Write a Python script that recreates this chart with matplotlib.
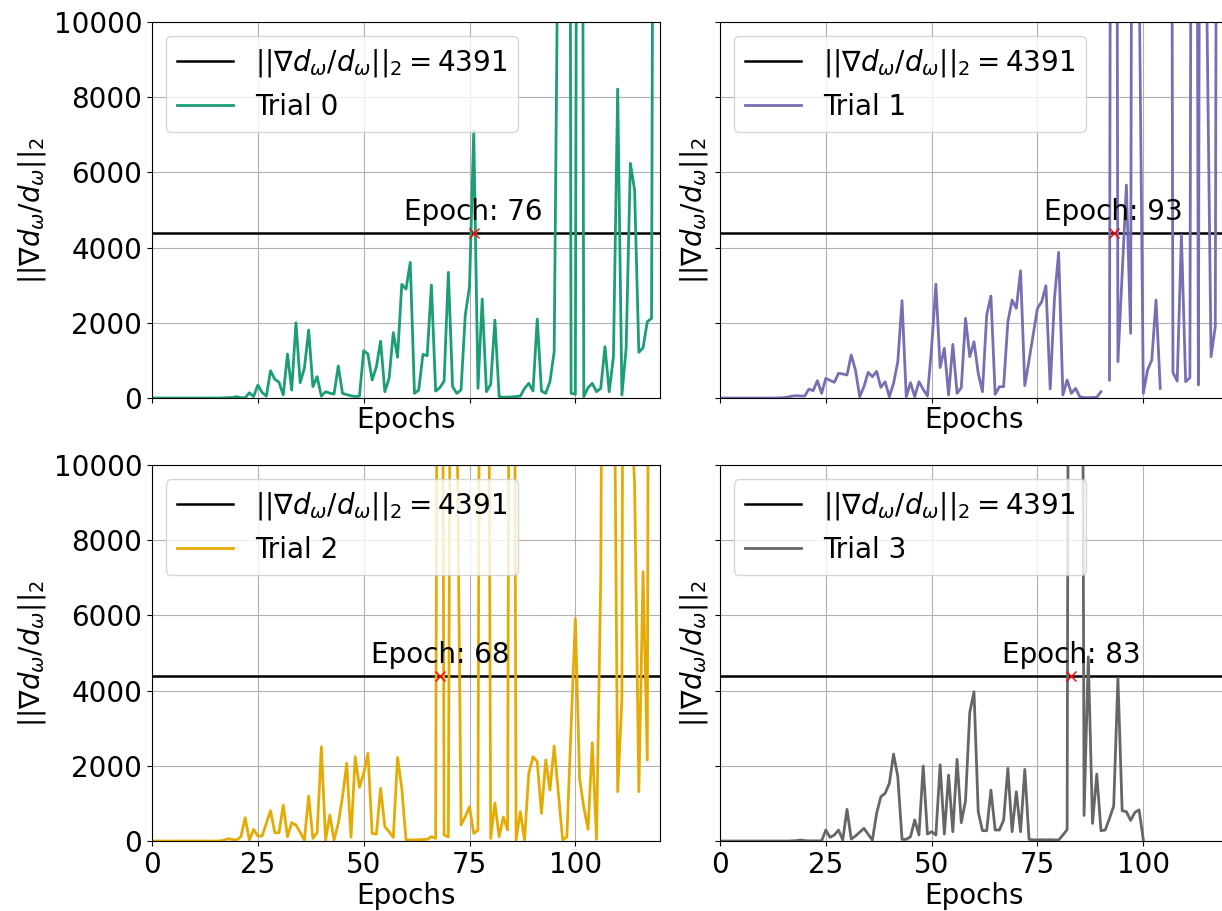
"""
Gradient norm per epoch for four training trials, with the
threshold line and the first epoch that crosses it.
"""

import matplotlib.pyplot as plt
import numpy as np

THRESHOLD = 4391
nan = np.nan

trial_0 = [
    0, 0, 0, 0, 0, 0, 0, 0, 0, 0,
    0, 0, 0, 0, 0, 0, 0, 5, 10, 15,
    35, 10, 5, 140, 40, 345, 150, 50, 726, 500,
    420, 80, 1170, 210, 2003, 408, 797, 1808, 302, 567,
    50, 168, 130, 105, 851, 124, 90, 60, 40, 50,
    1259, 1170, 479, 833, 1510, 168, 523, 1740, 1085, 3023,
    2899, 3608, 124, 213, 1161, 1126, 3005, 186, 275, 452,
    3342, 301, 124, 213, 2207, 2961, 7100, 257, 2633, 168,
    364, 2074, 35, 20, 25, 30, 40, 50, 257, 390,
    186, 2101, 186, 124, 434, 1231, 14000, 30000, 60000, 124,
    100, 50000, 35, 275, 390, 168, 257, 1365, 168, 1099,
    8218, 80, 1322, 6242, 5532, 1215, 1338, 2030, 2119, 40000,
]

trial_1 = [
    0, 0, 0, 0, 0, 0, 0, 0, 0, 0,
    0, 0, 0, 0, 5, 10, 25, 50, 60, 55,
    53, 239, 195, 461, 124, 523, 470, 417, 656, 640,
    612, 1143, 745, 35, 302, 683, 567, 709, 284, 434,
    35, 390, 966, 2589, 35, 408, 35, 434, 231, 53,
    1365, 3030, 810, 1322, 80, 1428, 124, 275, 2119, 1099,
    1498, 656, 168, 2207, 2713, 98, 301, 301, 2030, 2606,
    2385, 3386, 328, 1000, 1700, 2385, 2562, 2988, 240, 2630,
    3874, 80, 479, 124, 257, 35, 10, 10, 15, 20,
    168, nan, 479, 60000, 966, 3300, 5665, 1720, 50000, 11500,
    124, 745, 1011, 2606, 257, nan, 50000, 680, 450, 4335,
    434, 540, 50000, 346, 50000, 10500, 1099, 1900, 50000, 50000,
]

trial_2 = [
    0, 0, 0, 0, 0, 0, 0, 0, 0, 0,
    0, 0, 0, 0, 0, 0, 5, 20, 62, 40,
    27, 115, 620, 27, 310, 133, 133, 470, 806, 222,
    222, 957, 115, 488, 426, 230, 27, 1197, 71, 222,
    2508, 27, 691, 27, 470, 1179, 2066, 98, 2242, 1428,
    1800, 2332, 204, 186, 1401, 382, 248, 98, 2225, 1401,
    27, 30, 30, 35, 40, 45, 115, 71, 40000, 160,
    110, 30000, 12000, 426, 650, 912, 204, 290, 40000, 30000,
    70, 1011, 115, 640, 293, 40000, 27, 780, 27, 1800,
    2242, 2109, 736, 2154, 1356, 2527, 1267, 27, 115, 3040,
    5922, 1667, 900, 310, 2615, 45, 7000, 30000, 40000, 16000,
    1311, 3800, 50000, 12000, 9500, 1311, 7162, 2154, 50000, 40000,
]

trial_3 = [
    0, 0, 0, 0, 0, 0, 0, 0, 0, 0,
    0, 0, 0, 0, 0, 0, 0, 5, 10, 27,
    10, 5, 5, 5, 5, 293, 98, 160, 293, 27,
    843, 53, 133, 235, 337, 180, 27, 736, 1179, 1268,
    1534, 2314, 1711, 45, 45, 115, 560, 160, 1995, 186,
    248, 160, 2030, 186, 1755, 248, 2175, 488, 1070, 3420,
    3970, 780, 275, 275, 1356, 293, 293, 560, 1933, 248,
    1311, 248, 1906, 45, 30, 30, 35, 30, 35, 30,
    27, 160, 300, 50000, 60000, 40000, 680, 4900, 470, 1780,
    275, 293, 600, 930, 4327, 806, 780, 550, 760, 830,
    27,
]

trials = [trial_0, trial_1, trial_2, trial_3]
colors = ["#1b9e77", "#7570b3", "#e6ab02", "#666666"]

plt.rcParams['font.size'] = 20


def plot_trial(ax, values, color, idx):
    """
    Plots one trial with the threshold line and marks the first
    epoch where the gradient norm goes above the threshold.
    """
    values = np.array(values, dtype=float)
    epochs = np.arange(len(values))

    ax.axhline(THRESHOLD, color='k', linewidth=1.8,
               label=r"$||\nabla d_\omega/d_\omega||_2 = $" + f"${THRESHOLD}$")
    ax.plot(epochs, values, color=color, linewidth=2, label=f"Trial {idx}")

    epoch = int(np.argmax(np.nan_to_num(values) > THRESHOLD))
    ax.plot(epoch, THRESHOLD, 'x', color='red', markersize=7, zorder=5)
    ax.text(epoch, THRESHOLD + 180, f"Epoch: {epoch}", ha='center', va='bottom')

    ax.set_xlabel("Epochs", labelpad=2)
    ax.set_ylabel(r"$||\nabla d_\omega/d_\omega||_2$")
    ax.grid(True)
    ax.legend(loc='upper left')


fig, axes = plt.subplots(2, 2, figsize=(12.22, 9.11), sharex=True, sharey=True)

for i, ax in enumerate(axes.flat):
    plot_trial(ax, trials[i], colors[i], i)

axes[0, 0].set_xlim(0, 120)
axes[0, 0].set_ylim(0, 10000)
axes[0, 0].set_xticks([0, 25, 50, 75, 100])

# place the panels by hand (right column runs slightly past the edge)
w, h = 0.4157, 0.4127
axes[0, 0].set_position([0.1244, 0.5631, w, h])
axes[0, 1].set_position([0.5892, 0.5631, w, h])
axes[1, 0].set_position([0.1244, 0.0768, w, h])
axes[1, 1].set_position([0.5892, 0.0768, w, h])

plt.savefig("out.png", dpi=100)
